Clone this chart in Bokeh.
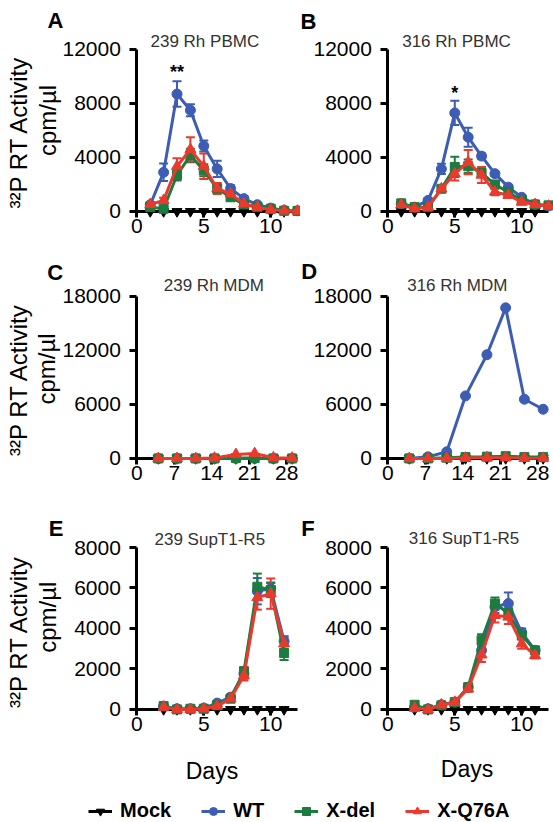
import math
from bokeh.plotting import figure
from bokeh.models import (Range1d, FixedTicker, Label, Whisker, TeeHead,
                          ColumnDataSource, Legend, LegendItem)
from bokeh.layouts import column, row
from bokeh.embed import file_html
from bokeh.resources import INLINE

FONT = "Liberation Sans"
BLUE = "#3d5db5"
GREEN = "#1c7b3f"
RED = "#ea3a2d"
BLACK = "#000000"

# ---------------- A: 239 Rh PBMC ----------------
a_days = [1, 2, 3, 4, 5, 6, 7, 8, 9, 10, 11, 12]
a_mock_days = [1, 2, 3, 4, 5, 6, 7, 8, 9, 10, 11]
a_mock = [0, 0, 0, 0, 0, 0, 0, 0, 0, 0, 0]
a_wt = [500, 2900, 8700, 7500, 4850, 3150, 1700, 950, 500, 250, 80, 50]
a_wt_err = [150, 650, 950, 450, 400, 600, 250, 150, 100, 80, 50, 30]
a_del = [320, 200, 2700, 4150, 3050, 1700, 1050, 520, 320, 200, 50, 30]
a_del_err = [100, 100, 400, 500, 450, 300, 200, 150, 100, 80, 50, 30]
a_q76a = [520, 820, 3350, 4600, 3350, 1700, 1300, 570, 320, 120, 50, 30]
a_q76a_err = [150, 200, 600, 900, 950, 400, 300, 150, 100, 60, 40, 30]

# ---------------- B: 316 Rh PBMC ----------------
b_days = [1, 2, 3, 4, 5, 6, 7, 8, 9, 10, 11, 12]
b_mock_days = [1, 2, 3, 4, 5, 6, 7, 8, 9, 10, 11]
b_mock = [0, 0, 0, 0, 0, 0, 0, 0, 0, 0, 0]
b_wt = [570, 320, 815, 3150, 7300, 5500, 4100, 2800, 1800, 1050, 520, 400]
b_wt_err = [100, 80, 150, 380, 900, 700, 200, 150, 100, 100, 80, 60]
b_del = [600, 320, 320, 1680, 3300, 3350, 2850, 2000, 1430, 815, 520, 450]
b_del_err = [150, 80, 80, 200, 750, 500, 300, 200, 150, 100, 80, 60]
b_q76a = [500, 200, 320, 1680, 2800, 3650, 2700, 1450, 1200, 700, 520, 400]
b_q76a_err = [100, 60, 80, 200, 500, 900, 600, 250, 150, 100, 80, 60]

# ---------------- C / D: Rh MDM ----------------
mdm_days = [4, 7.5, 11, 14.5, 18.5, 22, 25.5, 29]
c_mock = [0, 0, 0, 0, 0, 0, 0, 0]
c_wt = [0, 0, 0, 0, 0, 0, 0, 0]
c_del = [0, 0, 0, 0, 50, 50, 0, 0]
c_q76a = [0, 0, 0, 50, 450, 550, 80, 50]
d_mock = [0, 0, 0, 0, 0, 0, 0, 0]
d_wt = [0, 180, 740, 6950, 11530, 16740, 6580, 5470]
d_del = [0, 0, 80, 150, 200, 250, 150, 150]
d_q76a = [0, 0, 0, 50, 80, 80, 30, 30]

# ---------------- E / F: SupT1-R5 ----------------
sup_days = [2, 3, 4, 5, 6, 7, 8, 9, 10, 11]
e_mock = [0, 0, 0, 0, 0, 0, 0, 0, 0, 0]
e_wt = [165, 33, 33, 66, 313, 610, 1770, 5840, 5970, 3370]
e_wt_err = [60, 30, 30, 40, 80, 120, 250, 650, 300, 250]
e_del = [165, 0, 33, 33, 200, 530, 1880, 6060, 5900, 2790]
e_del_err = [60, 20, 30, 30, 60, 120, 200, 650, 350, 350]
e_q76a = [115, 0, 0, 33, 165, 530, 1680, 5530, 5720, 3250]
e_q76a_err = [50, 20, 20, 30, 60, 120, 250, 600, 750, 300]
f_mock = [0, 0, 0, 0, 0, 0, 0, 0, 0, 0]
f_wt = [115, 33, 230, 360, 1100, 2920, 5070, 5230, 3800, 2920]
f_wt_err = [60, 30, 60, 80, 150, 300, 300, 550, 200, 150]
f_del = [230, 0, 200, 360, 1100, 3420, 5230, 4750, 3660, 2920]
f_del_err = [60, 20, 60, 80, 150, 300, 300, 250, 200, 150]
f_q76a = [66, 0, 230, 360, 1020, 2700, 4650, 4570, 3250, 2670]
f_q76a_err = [40, 20, 60, 80, 150, 350, 350, 350, 250, 150]

pbmc_xticks = [0, 5, 10]
mdm_xticks = [0, 7, 14, 21, 28]
pbmc_yticks = [0, 4000, 8000, 12000]
mdm_yticks = [0, 6000, 12000, 18000]
sup_yticks = [0, 2000, 4000, 6000, 8000]

legend_names = ["Mock", "WT", "X-del", "X-Q76A"]
legend_colors = [BLACK, BLUE, GREEN, RED]
legend_markers = ["inverted_triangle", "circle", "square", "triangle"]
marker_sizes = {"inverted_triangle": 10, "circle": 10, "square": 9, "triangle": 11}

YLABEL1 = "\u00b3\u00b2P RT Activity"
YLABEL2 = "cpm/\u00b5l"


def make_panel(width, height, x0_px, px_per_day, y0_px, units_per_px,
               x_bounds, y_bounds, xticks, yticks):
    """A panel whose frame fills the whole canvas; the axes sit at the
    data origin, which lands x0_px from the left and y0_px from the top."""
    x_range = Range1d(-x0_px / px_per_day, (width - x0_px) / px_per_day)
    y_range = Range1d(-(height - y0_px) * units_per_px, y0_px * units_per_px)
    p = figure(width=width, height=height, x_range=x_range, y_range=y_range,
               title_location=None, output_backend="svg",
               toolbar_location=None, tools="",
               min_border=0, min_border_left=0, min_border_right=0,
               min_border_top=0, min_border_bottom=0)
    p.grid.visible = False
    p.outline_line_color = None
    p.background_fill_color = "white"
    p.border_fill_color = "white"
    for ax in (p.xaxis[0], p.yaxis[0]):
        ax.fixed_location = 0
        ax.axis_line_width = 3
        ax.axis_line_color = BLACK
        ax.major_tick_line_width = 3
        ax.major_tick_line_color = BLACK
        ax.major_tick_in = 0
        ax.minor_tick_line_color = None
        ax.major_label_text_font = FONT
        ax.major_label_text_font_size = "21px"
        ax.major_label_text_color = BLACK
    p.xaxis[0].bounds = x_bounds
    p.yaxis[0].bounds = y_bounds
    p.xaxis[0].ticker = FixedTicker(ticks=xticks)
    p.yaxis[0].ticker = FixedTicker(ticks=yticks)
    p.xaxis[0].major_tick_out = 6
    p.xaxis[0].major_label_standoff = 2
    p.yaxis[0].major_tick_out = 7
    p.yaxis[0].major_label_standoff = 9
    return p


def draw_series(p, days, vals, color, marker, errs=None):
    src = ColumnDataSource(dict(x=days, y=vals))
    p.line("x", "y", source=src, line_color=color, line_width=3, level="overlay")
    p.scatter("x", "y", source=src, marker=marker, size=marker_sizes[marker],
              fill_color=color, line_color=color, level="overlay")
    if errs is not None:
        upper = [v + e for v, e in zip(vals, errs)]
        lower = [max(v - e, 0) for v, e in zip(vals, errs)]
        wsrc = ColumnDataSource(dict(x=days, upper=upper, lower=lower))
        w = Whisker(source=wsrc, base="x", upper="upper", lower="lower",
                    line_color=color, line_width=2,
                    upper_head=TeeHead(size=9, line_color=color, line_width=2),
                    lower_head=TeeHead(size=9, line_color=color, line_width=2))
        p.add_layout(w)


def add_text(p, x, y, text, size, bold=False, color=BLACK, align="left", angle=0.0):
    # y is the vertical centre of the text
    p.add_layout(Label(x=x, y=y, text=text, text_font=FONT,
                       text_font_size=size, text_color=color,
                       text_font_style="bold" if bold else "normal",
                       text_align=align, text_baseline="middle", angle=angle))


def add_ylabel(p, x1, y1, x2, y2):
    add_text(p, x1, y1, YLABEL1, "24px", align="center", angle=math.pi / 2)
    add_text(p, x2, y2, YLABEL2, "24px", align="center", angle=math.pi / 2)


# Row 1: PBMC
pA = make_panel(300, 255, 136.35, 13.387, 210.95, 74.096, (-0.4, 12), (-300, 12000),
                pbmc_xticks, pbmc_yticks)
draw_series(pA, a_mock_days, a_mock, BLACK, "inverted_triangle")
draw_series(pA, a_days, a_wt, BLUE, "circle", a_wt_err)
draw_series(pA, a_days, a_del, GREEN, "square", a_del_err)
draw_series(pA, a_days, a_q76a, RED, "triangle", a_q76a_err)
add_text(pA, -6.67, 14112, "A", "22px", bold=True)
add_text(pA, 1.02, 12593, "239 Rh PBMC", "17px", color="#333333")
add_text(pA, 3, 10362, "**", "18px", bold=True, align="center")
add_ylabel(pA, -8.84, 5887, -6.71, 6739)

pB = make_panel(253, 255, 87.35, 13.387, 210.95, 74.096, (-0.4, 12), (-300, 12000),
                pbmc_xticks, pbmc_yticks)
draw_series(pB, b_mock_days, b_mock, BLACK, "inverted_triangle")
draw_series(pB, b_days, b_wt, BLUE, "circle", b_wt_err)
draw_series(pB, b_days, b_del, GREEN, "square", b_del_err)
draw_series(pB, b_days, b_q76a, RED, "triangle", b_q76a_err)
add_text(pB, -6.52, 14089, "B", "22px", bold=True)
add_text(pB, 1.07, 12615, "316 Rh PBMC", "17px", color="#333333")
add_text(pB, 5, 8806, "*", "18px", bold=True, align="center")

# Row 2: MDM
pC = make_panel(300, 250, 136.35, 5.355, 202.95, 111.145, (-1, 30), (-450, 18000),
                mdm_xticks, mdm_yticks)
draw_series(pC, mdm_days, c_mock, BLACK, "inverted_triangle")
draw_series(pC, mdm_days, c_wt, BLUE, "circle")
draw_series(pC, mdm_days, c_del, GREEN, "square")
draw_series(pC, mdm_days, c_q76a, RED, "triangle")
add_text(pC, -16.74, 20667, "C", "22px", bold=True)
add_text(pC, 5.03, 19267, "239 Rh MDM", "17px", color="#333333")
add_ylabel(pC, -22.1, 8771, -16.78, 9938)

pD = make_panel(253, 250, 87.35, 5.355, 202.95, 111.145, (-1, 30), (-450, 18000),
                mdm_xticks, mdm_yticks)
draw_series(pD, mdm_days, d_mock, BLACK, "inverted_triangle")
draw_series(pD, mdm_days, d_wt, BLUE, "circle")
draw_series(pD, mdm_days, d_del, GREEN, "square")
draw_series(pD, mdm_days, d_q76a, RED, "triangle")
add_text(pD, -16.18, 20745, "D", "22px", bold=True)
add_text(pD, 3.61, 19267, "316 Rh MDM", "17px", color="#333333")

# Row 3: SupT1-R5
pE = make_panel(300, 290, 136.35, 13.387, 203.95, 49.398, (-0.4, 12), (-200, 8000),
                pbmc_xticks, sup_yticks)
draw_series(pE, sup_days, e_mock, BLACK, "inverted_triangle")
draw_series(pE, sup_days, e_wt, BLUE, "circle", e_wt_err)
draw_series(pE, sup_days, e_del, GREEN, "square", e_del_err)
draw_series(pE, sup_days, e_q76a, RED, "triangle", e_q76a_err)
add_text(pE, -6.58, 8963, "E", "22px", bold=True)
add_text(pE, 1.32, 8400, "239 SupT1-R5", "17px", color="#333333")
add_text(pE, 5.61, -3016, "Days", "23px", align="center")
add_ylabel(pE, -8.84, 3851, -6.71, 4557)

pF = make_panel(253, 290, 87.35, 13.387, 203.95, 49.398, (-0.4, 12), (-200, 8000),
                pbmc_xticks, sup_yticks)
draw_series(pF, sup_days, f_mock, BLACK, "inverted_triangle")
draw_series(pF, sup_days, f_wt, BLUE, "circle", f_wt_err)
draw_series(pF, sup_days, f_del, GREEN, "square", f_del_err)
draw_series(pF, sup_days, f_q76a, RED, "triangle", f_q76a_err)
add_text(pF, -6.47, 8963, "F", "22px", bold=True)
add_text(pF, 1.56, 8450, "316 SupT1-R5", "17px", color="#333333")
add_text(pF, 5.91, -2966, "Days", "23px", align="center")

# Shared legend strip; each sample renderer holds one point kept off-canvas
lg = figure(width=553, height=27, x_range=Range1d(0, 1), y_range=Range1d(0, 1),
            output_backend="svg", toolbar_location=None, tools="",
            title_location=None, x_axis_type=None, y_axis_type=None,
            min_border=0, min_border_left=0, min_border_right=0,
            min_border_top=0, min_border_bottom=0)
lg.grid.visible = False
lg.outline_line_color = None
items = []
for name, color, marker in zip(legend_names, legend_colors, legend_markers):
    src = ColumnDataSource(dict(x=[-5, -4], y=[-5, -5]))
    r1 = lg.line("x", "y", source=src, line_color=color, line_width=3)
    r2 = lg.scatter("x", "y", source=src, marker=marker, size=marker_sizes[marker],
                    fill_color=color, line_color=color)
    items.append(LegendItem(label=name, renderers=[r1, r2]))
legend = Legend(items=items, orientation="horizontal", location=(88, 0),
                glyph_width=24, glyph_height=20, label_standoff=8, spacing=30,
                padding=0, margin=0, border_line_color=None,
                background_fill_alpha=0,
                label_text_font=FONT, label_text_font_size="20px",
                label_text_font_style="bold", label_text_color=BLACK)
lg.add_layout(legend)

layout = column(row(pA, pB), row(pC, pD), row(pE, pF), lg)
open("out.html", "w", encoding="utf-8").write(file_html(layout, INLINE))
